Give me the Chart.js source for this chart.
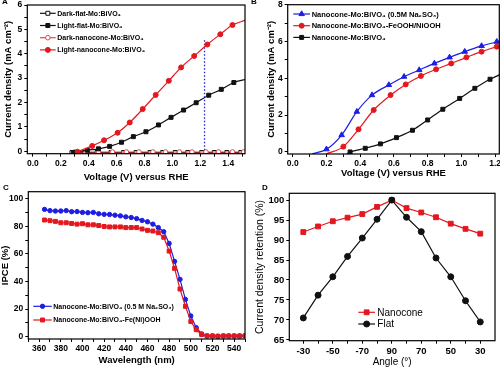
<!DOCTYPE html>
<html lang="en">
<head>
<meta charset="UTF-8">
<title>Nanocone Mo:BiVO4 photoelectrodes</title>
<script src="https://cdn.jsdelivr.net/npm/chart.js"></script>
<style>
    body { margin: 0; background: #fff; }
    #fig { position: relative; width: 500px; height: 368px; overflow: hidden; }
    canvas { position: absolute; }
    .tag { position: absolute; font: bold 8px "Liberation Sans", Arial, sans-serif; color: #000; }
</style>
</head>
<body>
<div id="fig">
    <canvas id="cA" width="250" height="184" style="left:0;top:0"></canvas>
    <canvas id="cB" width="250" height="184" style="left:250px;top:0"></canvas>
    <canvas id="cC" width="250" height="184" style="left:0;top:184px"></canvas>
    <canvas id="cD" width="250" height="184" style="left:250px;top:184px"></canvas>
    <div class="tag" style="left:2px;top:-3px">A</div>
    <div class="tag" style="left:251px;top:-3px">B</div>
    <div class="tag" style="left:3px;top:183px">C</div>
    <div class="tag" style="left:262px;top:183px">D</div>
</div>

<script>
// ---------- Panel A : J-V curves, flat vs nanocone, dark and light
const aDarkFlatV = [0.28, 0.37, 0.46, 0.56, 0.65, 0.74, 0.84, 0.93, 1.02, 1.11, 1.21, 1.30, 1.39, 1.49];
const aDarkFlatJ = [-0.05, -0.05, -0.05, -0.05, -0.05, -0.05, -0.05, -0.05, -0.05, -0.05, -0.05, -0.05, -0.05, -0.05];
const aLightFlatV = [0.29, 0.39, 0.47, 0.55, 0.635, 0.72, 0.81, 0.90, 0.99, 1.08, 1.17, 1.26, 1.35, 1.44, 1.52];
const aLightFlatJ = [-0.05, 0.04, 0.10, 0.20, 0.37, 0.60, 0.80, 1.08, 1.39, 1.69, 1.99, 2.30, 2.54, 2.82, 2.94];
const aDarkNanoV = [0.30, 0.38, 0.47, 0.57, 0.67, 0.76, 0.86, 0.95, 1.05, 1.14, 1.24, 1.33, 1.43, 1.51];
const aDarkNanoJ = [-0.03, -0.03, -0.03, -0.03, -0.03, -0.03, -0.03, -0.03, -0.03, -0.03, -0.03, -0.03, -0.03, -0.03];
const aLightNanoV = [0.32, 0.425, 0.51, 0.607, 0.694, 0.787, 0.88, 0.974, 1.062, 1.156, 1.25, 1.343, 1.43, 1.52];
const aLightNanoJ = [-0.02, 0.22, 0.45, 0.76, 1.18, 1.73, 2.31, 2.89, 3.44, 3.91, 4.38, 4.80, 5.18, 5.37];
const aGuideV = [1.23, 1.23];
const aGuideJ = [-0.1, 4.6];
const aTicksX = [0, 0.1, 0.2, 0.3, 0.4, 0.5, 0.6, 0.7, 0.8, 0.9, 1.0, 1.1, 1.2, 1.3, 1.4, 1.5];
const aLabelsX = [0, 0.2, 0.4, 0.6, 0.8, 1.0, 1.2, 1.4];
const aTicksY = [0, 0.5, 1, 1.5, 2, 2.5, 3, 3.5, 4, 4.5, 5, 5.5, 6];
const aLabelsY = [0, 1, 2, 3, 4, 5, 6];

// ---------- Panel B : nanocone with hole scavenger / co-catalyst
const bSulfiteV = [0.115, 0.20, 0.29, 0.38, 0.47, 0.57, 0.66, 0.75, 0.84, 0.93, 1.02, 1.12, 1.21, 1.23];
const bSulfiteJ = [-0.1, 0.15, 0.92, 2.19, 3.09, 3.64, 4.09, 4.45, 4.81, 5.14, 5.45, 5.76, 5.99, 6.05];
const bCoCatV = [0.20, 0.30, 0.39, 0.48, 0.58, 0.67, 0.76, 0.85, 0.94, 1.03, 1.12, 1.21, 1.23];
const bCoCatJ = [-0.1, 0.29, 1.23, 2.28, 3.09, 3.67, 4.13, 4.49, 4.81, 5.14, 5.45, 5.72, 5.78];
const bBareV = [0.32, 0.34, 0.43, 0.52, 0.615, 0.71, 0.80, 0.89, 0.99, 1.08, 1.17, 1.23];
const bBareJ = [-0.1, 0.0, 0.20, 0.44, 0.78, 1.18, 1.74, 2.32, 2.91, 3.46, 3.95, 4.20];
const bTicksX = [0, 0.1, 0.2, 0.3, 0.4, 0.5, 0.6, 0.7, 0.8, 0.9, 1.0, 1.1, 1.2];
const bLabelsX = [0, 0.2, 0.4, 0.6, 0.8, 1.0, 1.2];
const bTicksY = [0, 1, 2, 3, 4, 5, 6, 7, 8];
const bLabelsY = [0, 2, 4, 6, 8];

// ---------- Panel C : IPCE spectra
const cWave = [365, 370, 375, 380, 385, 390, 395, 400, 405, 410, 415, 420, 425, 430, 435, 440, 445, 450, 455,
               460, 465, 470, 475, 480, 485, 490, 495, 500, 505, 510, 515, 520, 525, 530, 535, 540, 545, 550];
const cSulfite = [92.2, 91.3, 91.0, 91.0, 91.3, 90.5, 90.6, 90.0, 89.8, 90.0, 89.0, 88.6, 88.5, 88.0, 87.5, 86.8, 86.3, 85.5, 84.2,
                  83.2, 81.5, 79.0, 76.0, 67.5, 54.5, 41.5, 27.0, 15.0, 6.5, 2.0, 0.5, 0.5, 0.3, 0.5, 0.5, 0.5, 0.5, 0.6];
const cCoCat = [84.5, 84.0, 83.5, 82.5, 82.5, 82.0, 81.5, 81.8, 81.0, 81.0, 80.5, 79.8, 79.5, 79.5, 79.5, 79.0, 79.0, 79.0, 78.0,
                77.0, 76.5, 75.3, 72.0, 62.0, 49.5, 34.5, 22.0, 11.0, 5.0, 1.5, 0.5, 0.5, 0.3, 0.5, 0.5, 0.5, 0.5, 0.6];
const cTicksX = [350, 360, 370, 380, 390, 400, 410, 420, 430, 440, 450, 460, 470, 480, 490, 500, 510, 520, 530, 540, 550];
const cLabelsX = [360, 380, 400, 420, 440, 460, 480, 500, 520, 540];
const cTicksY = [0, 10, 20, 30, 40, 50, 60, 70, 80, 90, 100];
const cLabelsY = [0, 20, 40, 60, 80, 100];

// ---------- Panel D : retention vs incident angle
const dAngles = ['-30', '-40', '-50', '-60', '-70', '-80', '90', '80', '70', '60', '50', '40', '30'];
const dNanocone = [92.0, 93.4, 94.7, 95.6, 96.5, 98.3, 100.0, 98.0, 96.9, 95.7, 94.1, 92.8, 91.6];
const dFlat = [70.5, 76.2, 80.8, 85.9, 90.5, 95.2, 100.0, 95.7, 92.1, 85.5, 80.8, 74.8, 69.5];
const dTicksY = [65, 70, 75, 80, 85, 90, 95, 100];

const RED = '#e3181f';
const PINK = '#e4464c';
const BLUE = '#1e1ee0';
const BLACK = '#111111';
const FONT = '"Liberation Sans", Arial, sans-serif';

function pts(xs, ys) {
    return xs.map((x, i) => ({ x: x, y: ys[i] }));
}

// curve ends drawn without a symbol
function marks(r, first, last) {
    return c => ((first && c.dataIndex === 0) ||
        (last && c.dataIndex === c.dataset.data.length - 1)) ? 0 : r;
}

function series(label, xs, ys, color, style, size, open, extra) {
    return Object.assign({
        label: label,
        data: pts(xs, ys),
        borderColor: color,
        borderWidth: 1.2,
        pointStyle: style,
        pointRadius: size,
        markerSize: size,
        pointBackgroundColor: open ? '#ffffff' : color,
        pointBorderColor: color,
        pointBorderWidth: 1,
        tension: 0
    }, extra || {});
}

function axis(dir, min, max, ticks, majors, fmt, size, title, tfont, tpad, fontSize) {
    const vertical = dir === 'y';
    return {
        type: 'linear', min: min, max: max,
        afterBuildTicks: s => { s.ticks = ticks.map(v => ({ value: v })); },
        afterFit: s => {
            if (vertical) { s.width = size; s.paddingTop = 0; s.paddingBottom = 0; }
            else { s.height = size; s.paddingLeft = 0; s.paddingRight = 0; }
        },
        ticks: {
            autoSkip: false, maxRotation: 0, minRotation: 0, padding: 2, color: '#000',
            font: { family: FONT, size: fontSize || 8.5, weight: 'bold' },
            callback: v => majors.some(m => Math.abs(m - v) < 1e-6) ? fmt(v) : ''
        },
        grid: { display: true, drawOnChartArea: false, drawTicks: true, tickLength: 3, tickColor: '#000', tickWidth: 1 },
        border: { display: false },
        title: { display: true, text: title, color: '#000', font: tfont, padding: tpad }
    };
}

function drawMarker(ctx, ds, x, y) {
    const r = ds.markerSize;
    ctx.beginPath();
    if (ds.pointStyle === 'rect') {
        const s = r * Math.SQRT1_2;
        ctx.rect(x - s, y - s, 2 * s, 2 * s);
    } else if (ds.pointStyle === 'triangle') {
        let a = 0;
        ctx.moveTo(x + Math.sin(a) * r, y - Math.cos(a) * r);
        a += Math.PI * 2 / 3;
        ctx.lineTo(x + Math.sin(a) * r, y - Math.cos(a) * r);
        a += Math.PI * 2 / 3;
        ctx.lineTo(x + Math.sin(a) * r, y - Math.cos(a) * r);
        ctx.closePath();
    } else {
        ctx.arc(x, y, r, 0, Math.PI * 2);
    }
    ctx.fillStyle = ds.pointBackgroundColor;
    ctx.fill();
    ctx.lineWidth = ds.pointBorderWidth;
    ctx.strokeStyle = ds.pointBorderColor;
    ctx.stroke();
}

// legend drawn inside the plot, like the original figure
const insideLegend = {
    id: 'insideLegend',
    afterDraw(chart, args, o) {
        const ctx = chart.ctx;
        ctx.save();
        ctx.font = o.font;
        ctx.textBaseline = 'middle';
        let y = o.y;
        chart.data.datasets.forEach(ds => {
            if (!ds.label) return;
            ctx.strokeStyle = ds.borderColor;
            ctx.lineWidth = ds.borderWidth;
            ctx.beginPath();
            ctx.moveTo(o.x, y);
            ctx.lineTo(o.x + o.len, y);
            ctx.stroke();
            drawMarker(ctx, ds, o.x + o.len / 2, y);
            ctx.fillStyle = '#000';
            ctx.fillText(ds.label, o.x + o.len + o.gap, y + 0.5);
            y += o.step;
        });
        ctx.restore();
    }
};

const frame = {
    id: 'frame',
    afterDraw(chart) {
        const a = chart.chartArea, ctx = chart.ctx;
        ctx.save();
        ctx.strokeStyle = '#000';
        ctx.lineWidth = 1.2;
        ctx.strokeRect(a.left, a.top, a.right - a.left, a.bottom - a.top);
        ctx.restore();
    }
};

function makeChart(id, datasets, scales, padding, legend) {
    return new Chart(document.getElementById(id), {
        type: 'line',
        data: { datasets: datasets },
        options: {
            responsive: false,
            animation: false,
            events: [],
            layout: { padding: padding },
            scales: scales,
            plugins: { legend: { display: false }, tooltip: { enabled: false }, insideLegend: legend }
        },
        plugins: [insideLegend, frame]
    });
}

const boldTitle = { family: FONT, size: 9.5, weight: 'bold' };
const one = v => v.toFixed(1);
const whole = v => String(v);

// Panel A
makeChart('cA', [
    series('Dark-flat-Mo:BiVO₄', aDarkFlatV, aDarkFlatJ, BLACK, 'rect', 2.8, true, { order: 3 }),
    series('Light-flat-Mo:BiVO₄', aLightFlatV, aLightFlatJ, BLACK, 'rect', 2.8, false,
        { pointRadius: marks(2.8, false, true), cubicInterpolationMode: 'monotone', order: 1 }),
    series('Dark-nanocone-Mo:BiVO₄', aDarkNanoV, aDarkNanoJ, PINK, 'circle', 2.3, true, { order: 2 }),
    series('Light-nanocone-Mo:BiVO₄', aLightNanoV, aLightNanoJ, RED, 'circle', 2.5, false,
        { pointRadius: marks(2.5, false, true), cubicInterpolationMode: 'monotone', order: 0 }),
    { data: pts(aGuideV, aGuideJ), borderColor: '#2020d0', borderWidth: 1.3, borderDash: [1.5, 2], pointRadius: 0, order: 4 }
], {
    x: axis('x', -0.04, 1.52, aTicksX, aLabelsX, one, 30.3, 'Voltage (V) versus RHE', boldTitle, { top: 0, bottom: 0.8 }),
    y: axis('y', -0.1, 6, aTicksY, aLabelsY, whole, 27.3, 'Current density (mA cm⁻²)', boldTitle, { top: 2.6, bottom: 0 })
}, { left: 0, top: 4.7, right: 0.7, bottom: 0 },
    { x: 40, y: 13.3, len: 15.7, gap: 1.6, step: 12.2, font: 'bold 7px ' + FONT });

// Panel B
makeChart('cB', [
    series('Nanocone-Mo:BiVO₄ (0.5M Na₂SO₃)', bSulfiteV, bSulfiteJ, BLUE, 'triangle', 3.2, false,
        { pointRadius: marks(3.2, true, true), cubicInterpolationMode: 'monotone', order: 0 }),
    series('Nanocone-Mo:BiVO₄-FeOOH/NiOOH', bCoCatV, bCoCatJ, RED, 'circle', 2.5, false,
        { pointRadius: marks(2.5, true, true), cubicInterpolationMode: 'monotone', order: 1 }),
    series('Nanocone-Mo:BiVO₄', bBareV, bBareJ, BLACK, 'rect', 2.8, false,
        { pointRadius: marks(2.8, true, true), cubicInterpolationMode: 'monotone', order: 2 })
], {
    x: axis('x', -0.03, 1.225, bTicksX, bLabelsX, one, 30, 'Voltage (V) versus RHE', boldTitle, { top: 0, bottom: 5 }),
    y: axis('y', -0.11, 8, bTicksY, bLabelsY, whole, 37.7, 'Current density (mA cm⁻²)', boldTitle, { top: 16, bottom: 0 })
}, { left: 0, top: 4.7, right: 0.7, bottom: 0 },
    { x: 43.3, y: 14, len: 16.7, gap: 1.7, step: 11.7, font: 'bold 7.5px ' + FONT });

// Panel C
makeChart('cC', [
    series('Nanocone-Mo:BiVO₄ (0.5 M Na₂SO₃)', cWave, cSulfite, BLUE, 'circle', 2.2, false, { order: 1 }),
    series('Nanocone-Mo:BiVO₄-Fe(Ni)OOH', cWave, cCoCat, RED, 'rect', 2.8, false, { order: 0 })
], {
    x: axis('x', 350, 550, cTicksX, cLabelsX, whole, 29, 'Wavelength (nm)', boldTitle, { top: 0, bottom: 2.3 }),
    y: axis('y', -1.7, 105, cTicksY, cLabelsY, whole, 28.3, 'IPCE (%)', boldTitle, { top: 0, bottom: 0 })
}, { left: 0, top: 7.7, right: 1, bottom: 0 },
    { x: 33.3, y: 122.3, len: 18.4, gap: 1.6, step: 13.7, font: 'bold 7px ' + FONT });

// Panel D
const dIndex = dAngles.map((a, i) => i);
const plainTitle = { family: FONT, size: 10.5, weight: 'normal' };
makeChart('cD', [
    series('Nanocone', dIndex, dNanocone, RED, 'rect', 3.4, false, { order: 1 }),
    series('Flat', dIndex, dFlat, BLACK, 'circle', 3, false, { order: 0 })
], {
    x: axis('x', -0.95, 13.0, dIndex, dIndex.filter(i => i % 2 === 0), v => dAngles[v], 27.3,
        'Angle (°)', { family: FONT, size: 10, weight: 'normal' }, { top: 0, bottom: 0 }, 9.5),
    y: axis('y', 64.8, 101.7, dTicksY, dTicksY, whole, 39.3, 'Current density retention (%)', plainTitle,
        { top: 3.7, bottom: 0 }, 9.5)
}, { left: 0, top: 9.3, right: 2.5, bottom: 0 },
    { x: 108.3, y: 128.3, len: 16.7, gap: 2.3, step: 11.7, font: '10px ' + FONT });
</script>
</body>
</html>
